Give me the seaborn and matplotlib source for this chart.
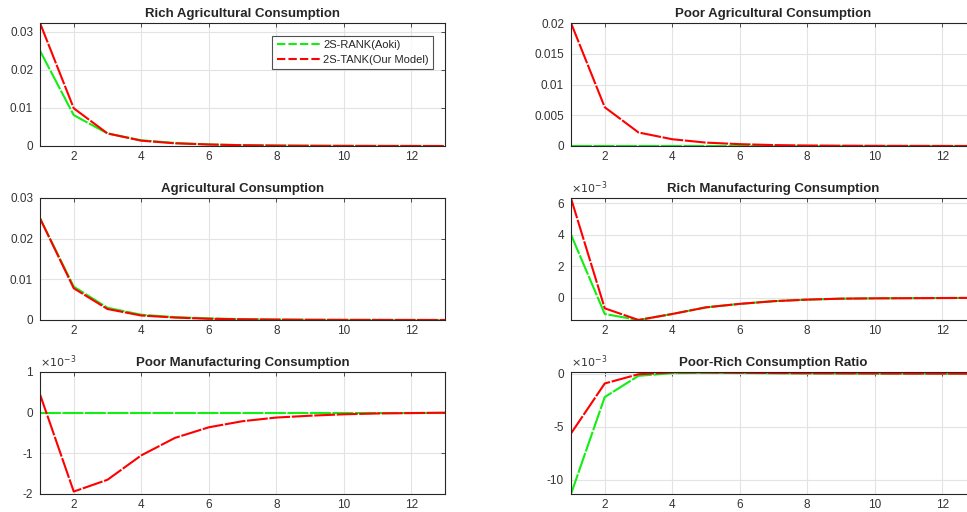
import matplotlib
matplotlib.use("Agg")
import matplotlib.pyplot as plt
import seaborn as sns
import pandas as pd

# periods on the x axis
PERIODS = list(range(1, 14))

# impulse responses
RICH_AGR_RANK = [0.025, 0.0081, 0.0033, 0.0015, 0.0008, 0.0004, 0.00022, 0.00012, 0.00007, 0.00004, 0.00002, 0.00001, 0.0]
RICH_AGR_TANK = [0.0323, 0.0099, 0.0033, 0.0014, 0.0007, 0.0004, 0.0002, 0.0001, 0.00006, 0.00003, 0.00002, 0.00001, 0.0]

POOR_AGR_RANK = [0.0] * 13
POOR_AGR_TANK = [0.0200, 0.0063, 0.0022, 0.0011, 0.00055, 0.0003, 0.00015, 0.00008, 0.00005, 0.00003, 0.00002, 0.00001, 0.0]

AGR_RANK = [0.025, 0.0082, 0.0030, 0.0013, 0.0007, 0.0004, 0.0002, 0.0001, 0.00006, 0.00003, 0.00002, 0.00001, 0.0]
AGR_TANK = [0.025, 0.0078, 0.0027, 0.0011, 0.0006, 0.0003, 0.00017, 0.0001, 0.00005, 0.00003, 0.00002, 0.00001, 0.0]

# the next three are in units of 1e-3
RICH_MAN_RANK = [4.0, -1.02, -1.4, -1.02, -0.6, -0.38, -0.21, -0.11, -0.05, -0.03, -0.02, -0.01, 0.0]
RICH_MAN_TANK = [6.3, -0.66, -1.4, -1.02, -0.6, -0.38, -0.21, -0.11, -0.05, -0.03, -0.02, -0.01, 0.0]

POOR_MAN_RANK = [0.0] * 13
POOR_MAN_TANK = [0.45, -1.94, -1.65, -1.05, -0.62, -0.36, -0.21, -0.12, -0.075, -0.04, -0.02, -0.01, 0.0]

RATIO_RANK = [-11.33, -2.2, -0.2, 0.05, 0.08, 0.06, 0.04, 0.03, 0.02, 0.01, 0.01, 0.0, 0.0]
RATIO_TANK = [-5.63, -0.92, -0.05, 0.12, 0.12, 0.09, 0.06, 0.04, 0.03, 0.02, 0.01, 0.01, 0.0]

LABELS = ["2S-RANK(Aoki)", "2S-TANK(Our Model)"]
COLORS = ["#11ee11", "#ff0000"]

PANELS = [
    ("Rich Agricultural Consumption", RICH_AGR_RANK, RICH_AGR_TANK, [0, 0.01, 0.02, 0.03], ["0", "0.01", "0.02", "0.03"], (0, 0.0323), False),
    ("Poor Agricultural Consumption", POOR_AGR_RANK, POOR_AGR_TANK, [0, 0.005, 0.01, 0.015, 0.02], ["0", "0.005", "0.01", "0.015", "0.02"], (0, 0.02), False),
    ("Agricultural Consumption", AGR_RANK, AGR_TANK, [0, 0.01, 0.02, 0.03], ["0", "0.01", "0.02", "0.03"], (0, 0.03), False),
    ("Rich Manufacturing Consumption", RICH_MAN_RANK, RICH_MAN_TANK, [0, 2, 4, 6], ["0", "2", "4", "6"], (-1.4, 6.32), True),
    ("Poor Manufacturing Consumption", POOR_MAN_RANK, POOR_MAN_TANK, [-2, -1, 0, 1], ["-2", "-1", "0", "1"], (-2, 1), True),
    ("Poor-Rich Consumption Ratio", RATIO_RANK, RATIO_TANK, [-10, -5, 0], ["-10", "-5", "0"], (-11.33, 0.16), True),
]

# axes boxes in pixels (left, top, width, height) on a 967x512 canvas
W, H = 967, 512
BOXES = [(40, 23, 405, 123), (571, 23, 405, 123),
         (40, 198, 405, 122), (571, 198, 405, 122),
         (40, 372, 405, 122), (571, 372, 405, 122)]


def main():
    sns.set_theme(style="white")
    plt.rcParams["font.family"] = ["Liberation Sans", "DejaVu Sans"]
    fig = plt.figure(figsize=(9.67, 5.12), dpi=100)

    for i, (title, rank, tank, yt, ytl, ylim, scaled) in enumerate(PANELS):
        l, t, w, h = BOXES[i]
        ax = fig.add_axes([l / W, (H - t - h) / H, w / W, h / H])
        df = pd.DataFrame({"period": PERIODS * 2,
                           "value": rank + tank,
                           "model": [LABELS[0]] * 13 + [LABELS[1]] * 13})
        for lab, col in zip(LABELS, COLORS):
            sns.lineplot(data=df[df["model"] == lab], x="period", y="value",
                         color=col, linewidth=1.5, label=lab, ax=ax,
                         dashes=False, linestyle=(0, (10, 0.8)))
        ax.set_xlim(1, 13)
        ax.set_ylim(*ylim)
        ax.set_xticks([2, 4, 6, 8, 10, 12])
        ax.set_yticks(yt)
        ax.set_yticklabels(ytl)
        ax.set_xlabel("")
        ax.set_ylabel("")
        ax.grid(True, color="#e3e3e3", linewidth=0.8)
        ax.set_axisbelow(True)
        for s in ax.spines.values():
            s.set_color("#262626")
            s.set_linewidth(0.8)
        ax.tick_params(direction="in", length=3, width=0.6, colors="#333333",
                       labelsize=8.5, top=True, right=True)
        ax.tick_params(axis="x", pad=3.5)
        ax.tick_params(axis="y", pad=5)
        ax.set_title(title, fontsize=9.5, fontweight="bold", pad=4)
        if scaled:
            ax.text(0.0, 1.02, r"$\times 10^{-3}$", transform=ax.transAxes,
                    fontsize=8, color="#333333", ha="left", va="bottom")
        if i == 0:
            leg = ax.legend(loc="upper right", fontsize=8, frameon=True,
                            fancybox=False, handlelength=4, borderpad=0.4,
                            labelspacing=0.4, handletextpad=0.2,
                            bbox_to_anchor=(0.985, 0.94))
            leg.get_frame().set_edgecolor("#262626")
            leg.get_frame().set_linewidth(0.8)
            for ln in leg.get_lines():
                ln.set_linestyle((0, (4, 1.5)))
        elif ax.get_legend() is not None:
            ax.get_legend().remove()

    fig.savefig("out.png", dpi=100)


if __name__ == "__main__":
    main()
